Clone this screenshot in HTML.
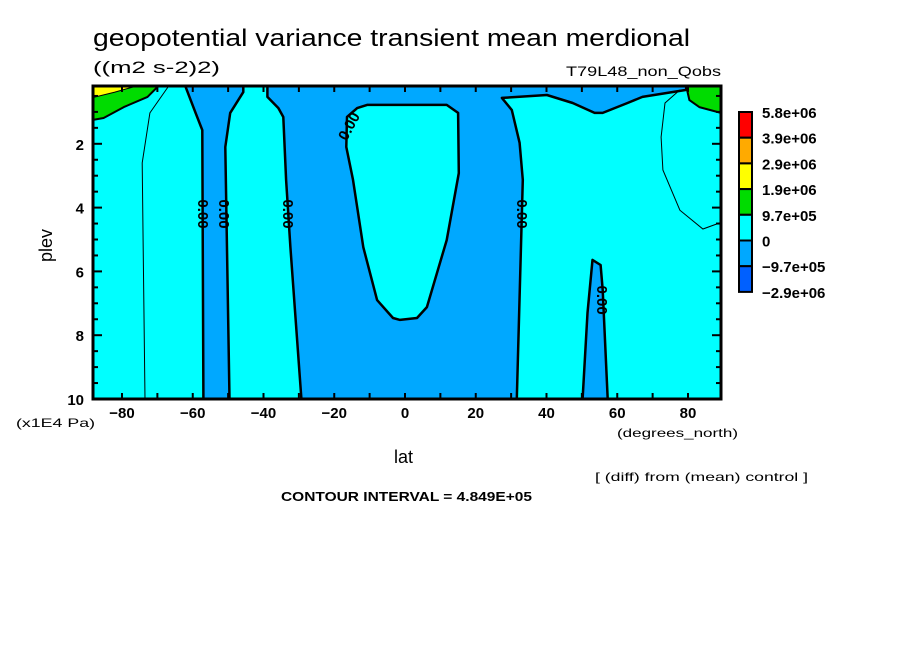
<!DOCTYPE html>
<html><head><meta charset="utf-8"><style>
html,body{margin:0;padding:0;background:#fff;}
svg{display:block;font-family:"Liberation Sans",sans-serif;}
</style></head><body>
<svg id="c" width="904" height="654" viewBox="0 0 904 654">
<rect width="904" height="654" fill="#fff"/>
<text x="93" y="46" font-size="24" textLength="597" lengthAdjust="spacingAndGlyphs">geopotential variance transient mean merdional</text>
<text x="93" y="73" font-size="17" textLength="127" lengthAdjust="spacingAndGlyphs">((m2 s-2)2)</text>
<text x="721" y="76" font-size="14" text-anchor="end" textLength="155" lengthAdjust="spacingAndGlyphs">T79L48_non_Qobs</text>
<g id="plot"></g>
<g id="axes"></g>
<g id="legend"></g>
<text x="16" y="427" font-size="12" textLength="79" lengthAdjust="spacingAndGlyphs">(x1E4 Pa)</text>
<text x="617" y="437" font-size="12" textLength="121" lengthAdjust="spacingAndGlyphs">(degrees_north)</text>
<text x="394" y="463" font-size="18">lat</text>
<text x="0" y="0" font-size="18" transform="translate(52,262) rotate(-90)">plev</text>
<text x="595" y="481" font-size="12" textLength="213" lengthAdjust="spacingAndGlyphs">[ (diff) from (mean) control ]</text>
<text x="281" y="501" font-size="13" font-weight="bold" textLength="251" lengthAdjust="spacingAndGlyphs">CONTOUR INTERVAL = 4.849E+05</text>
</svg>
<script>
const xTicks=[-80,-60,-40,-20,0,20,40,60,80];
const yTicks=[2,4,6,8,10];
const legendLabels=["5.8e+06","3.9e+06","2.9e+06","1.9e+06","9.7e+05","0","\u22129.7e+05","\u22122.9e+06"];
const legendColors=["#ff0000","#ffaa00","#ffff00","#00dc00","#00ffff","#00a8ff","#0060ff"];
const band1=[[-62.1,0.19],[-59.2,1.03],[-57.3,1.57],[-57.0,10],[-49.6,10],[-50.8,2.1],[-49.4,1.03],[-45.7,0.38],[-45.7,0.19]];
const bigRegion=[[-38.9,0.19],[-38.9,0.53],[-35.8,0.88],[-34.4,1.16],[-33.6,3.13],[-32.4,5.24],[-29.3,10],[31.6,10],[33.3,3.13],[32.4,1.97],[30.2,0.94],[27.4,0.56],[40.1,0.47],[47.4,0.72],[53.6,1.03],[55.9,1.03],[62.9,0.72],[67.1,0.53],[79.5,0.31],[79.5,0.19]];
const bubble=[[-10.7,0.78],[11.8,0.78],[15.0,1.03],[15.2,2.92],[11.8,5.02],[6.2,7.12],[3.4,7.46],[-1.4,7.52],[-3.4,7.46],[-7.9,6.9],[-11.8,5.24],[-14.7,3.13],[-16.6,2.1],[-16.4,1.16],[-13.5,0.88]];
const band3=[[50.2,10],[51.6,7.3],[53.0,5.64],[55.3,5.8],[55.9,6.58],[57.3,10]];
const greenLeft=[[-88.2,0.19],[-88.2,1.25],[-85.2,1.19],[-79.5,0.85],[-72.8,0.53],[-70,0.22],[-70,0.19]];
const yellowLeft=[[-88.2,0.19],[-88.2,0.55],[-82,0.38],[-76,0.19]];
const greenRight=[[79.5,0.19],[80.4,0.63],[83.2,0.85],[89.3,1.03],[89.3,0.19]];
const thinLeft=[[-67,0.22],[-72.1,1.03],[-74.3,2.6],[-74,5.3],[-73.5,10]];
const thinRight=[[77.7,0.31],[73.5,0.72],[72.4,1.79],[72.9,2.82],[77.7,4.08],[84.2,4.67],[89,4.48]];
const zeroLabels=[[-57.1,4.2,90],[-51.2,4.2,90],[-33.1,4.2,90],[33.1,4.2,90],[55.7,6.9,90],[-15.8,1.45,-62]];

const X=l=>405+3.5375*l, Y=p=>80+31.9*p;
const L=93,R=721,T=86,B=399;
const NS="http://www.w3.org/2000/svg";
function mk(tag,attrs,parent){const e=document.createElementNS(NS,tag);for(const k in attrs)e.setAttribute(k,attrs[k]);parent.appendChild(e);return e;}
const plot=document.getElementById('plot'),axes=document.getElementById('axes'),leg=document.getElementById('legend');
const defs=mk('defs',{},plot);const cp=mk('clipPath',{id:'clip'},defs);mk('rect',{x:L,y:T,width:R-L,height:B-T},cp);
const g=mk('g',{'clip-path':'url(#clip)'},plot);
let bg=mk('rect',{x:L,y:T,width:R-L,height:B-T,fill:'#00ffff'},g);


const pts=a=>a.map(p=>X(p[0]).toFixed(1)+','+Y(p[1]).toFixed(1)).join(' ');
function poly(a,fill,name,sw){const e=mk('polygon',{points:pts(a),fill:fill,stroke:'#000','stroke-width':sw,'stroke-linejoin':'round'},g);

return e;}
function line(a,name,sw){const e=mk('polyline',{points:pts(a),fill:'none',stroke:'#000','stroke-width':sw},g);

}
poly(band1,'#00a8ff','negative-band-60s',2.5);
poly(bigRegion,'#00a8ff','negative-region-tropics',2.5);
poly(bubble,'#00ffff','positive-bubble-equator',2.5);
poly(band3,'#00a8ff','negative-band-55n',2.5);
poly(greenLeft,'#00dc00','green-region-sh-top',2);
poly(yellowLeft,'#ffff00','yellow-region-sh-top',1);
poly(greenRight,'#00dc00','green-region-nh-top',2);
line(thinLeft,'thin-contour-sh',1);
line(thinRight,'thin-contour-nh',1);
zeroLabels.forEach(z=>{const grp=mk('g',{transform:`translate(${X(z[0])},${Y(z[1])}) rotate(${z[2]})`},g);
const t=mk('text',{x:0,y:5,'font-size':15,'font-weight':'bold','text-anchor':'middle'},grp);


t.textContent='0.00';});
let fr=mk('rect',{x:L,y:T,width:R-L,height:B-T,fill:'none',stroke:'#000','stroke-width':3},axes);


for(let l=-80;l<=80;l+=10){const x=X(l);mk('line',{x1:x,x2:x,y1:B,y2:B-6,stroke:'#000','stroke-width':2},axes);mk('line',{x1:x,x2:x,y1:T,y2:T+6,stroke:'#000','stroke-width':2},axes);}
for(let p=0.5;p<=10;p+=0.5){const y=Y(p);const len=(p%2===0)?9:5;mk('line',{x1:L,x2:L+len,y1:y,y2:y,stroke:'#000','stroke-width':2},axes);mk('line',{x1:R,x2:R-len,y1:y,y2:y,stroke:'#000','stroke-width':2},axes);}
xTicks.forEach(v=>{const t=mk('text',{x:X(v),y:418,'font-size':15,'font-weight':'bold','text-anchor':'middle'},axes);


t.textContent=v<0?'\u2212'+(-v):String(v);});
yTicks.forEach(v=>{const t=mk('text',{x:84,y:Y(v)+6,'font-size':15,'font-weight':'bold','text-anchor':'end'},axes);


t.textContent=String(v);});
const lx=739,ly=112,lh=25.7;
legendColors.forEach((c,i)=>{const r=mk('rect',{x:lx,y:ly+i*lh,width:13,height:lh,fill:c,stroke:'#000','stroke-width':2},leg);

});
legendLabels.forEach((s,i)=>{const t=mk('text',{x:762,y:ly+i*lh+6,'font-size':15,'font-weight':'bold'},leg);


t.textContent=s;});
</script>
</body></html>
